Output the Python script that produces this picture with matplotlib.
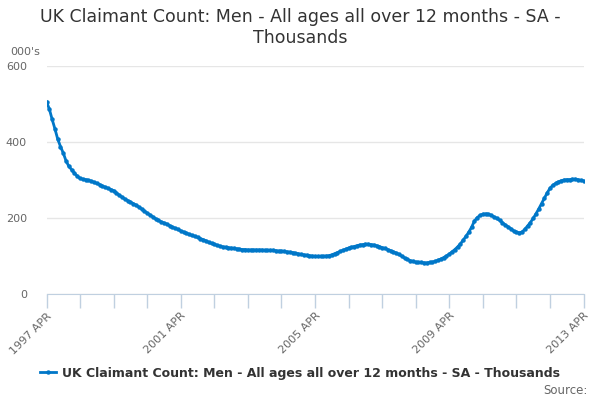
#!/usr/bin/env python3
import numpy as np
import matplotlib
matplotlib.use('Agg')
import matplotlib.pyplot as plt

plt.rcParams['font.family'] = ['DejaVu Sans']

# Monthly values (thousands), Apr 1997 .. Apr 2013
values = [
    506, 487, 460, 435, 408, 388, 371, 350, 336, 327, 318, 310,
    304, 302, 301, 299, 297, 294, 291, 288, 284, 281, 278, 275,
    272, 266, 260, 255, 250, 246, 242, 238, 234, 229, 224, 218,
    213, 208, 203, 198, 194, 190, 187, 184, 180, 176, 173, 170,
    166, 163, 160, 157, 154, 152, 149, 146, 143, 140, 136, 133,
    131, 128, 126, 124, 123, 122, 121, 120, 119, 118, 117, 117,
    116, 116, 116, 116, 116, 116, 115, 115, 115, 115, 114, 113,
    113, 112, 111, 110, 109, 107, 106, 104, 103, 102, 101, 100,
    99, 99, 99, 99, 100, 101, 103, 106, 109, 112, 115, 118,
    121, 123, 125, 127, 129, 130, 131, 131, 130, 129, 127, 125,
    122, 120, 117, 114, 111, 108, 104, 100, 95, 91, 88, 86,
    84, 83, 83, 82, 82, 83, 84, 86, 89, 92, 96, 100,
    105, 111, 117, 124, 132, 142, 152, 163, 176, 192, 201, 207,
    210, 211, 210, 207, 203, 199, 194, 188, 182, 177, 172, 166,
    163, 161, 163, 170, 179, 188, 199, 211, 224, 238, 252, 266,
    278, 286, 291, 295, 298, 300, 301, 301, 302, 302, 301, 299,
    298,
]
tick_labels = ['1997 APR', '2001 APR', '2005 APR', '2009 APR', '2013 APR']
y_ticks = [0, 200, 400, 600]

title = 'UK Claimant Count: Men - All ages all over 12 months - SA -\nThousands'
series_name = 'UK Claimant Count: Men - All ages all over 12 months - SA - Thousands'

LINE = '#0077c8'
AXIS = '#c0d0e0'
GRID = '#e6e6e6'
TXT = '#666666'

fig = plt.figure(figsize=(6, 4), dpi=100)
ax = fig.add_axes([46.5 / 600, 1 - 294 / 400, 537 / 600, 228 / 400])

x = np.arange(len(values))
ax.plot(x, values, color=LINE, linewidth=2, marker='o', markersize=2.2,
        label=series_name, zorder=3)

ax.set_xlim(0, len(values) - 1)
ax.set_ylim(0, 600)
ax.set_yticks(y_ticks)
ax.set_yticklabels([str(v) for v in y_ticks])
ax.yaxis.grid(True, color=GRID, linewidth=1)
ax.set_axisbelow(True)

ax.set_xticks(np.arange(0, len(values), 48))
ax.set_xticklabels(tick_labels, rotation=45, ha='right', va='top',
                   rotation_mode='anchor')
ax.set_xticks(np.arange(0, len(values), 12), minor=True)

for side in ['left', 'right', 'top']:
    ax.spines[side].set_visible(False)
ax.spines['bottom'].set_color(AXIS)

ax.tick_params(axis='y', length=0, pad=14, labelsize=8, labelcolor=TXT)
ax.tick_params(axis='x', which='both', length=10, color=AXIS, width=1,
               labelsize=8, labelcolor=TXT, pad=2)

fig.text(10 / 600, 1 - 52 / 400, "000's", fontsize=8, color=TXT,
         ha='left', va='center')
fig.suptitle(title, y=1 - 8 / 400, fontsize=12.5, color='#333333',
             va='top', linespacing=1.2)

leg = fig.legend(loc='center', bbox_to_anchor=(0.5, 1 - 373 / 400),
                 frameon=False, handlelength=1.3, handletextpad=0.5,
                 prop={'size': 9, 'weight': 'bold'})
for t in leg.get_texts():
    t.set_color('#333333')

fig.text(588 / 600, 1 - 390 / 400, 'Source:', fontsize=8.5, color=TXT,
         ha='right', va='center')

fig.savefig('out.png', dpi=100)
